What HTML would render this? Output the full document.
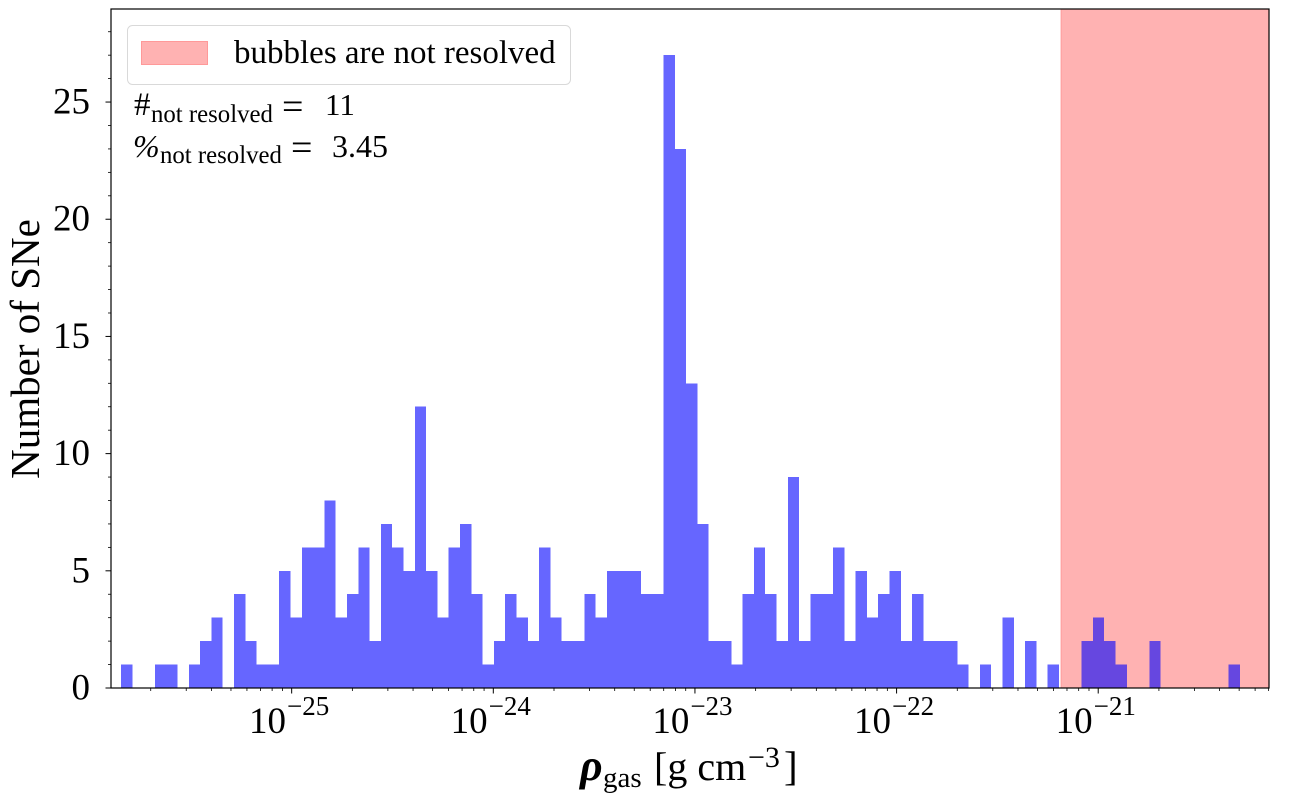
<!DOCTYPE html>
<html>
<head>
<meta charset="utf-8">
<title>Number of SNe vs gas density</title>
<style>
html,body{margin:0;padding:0;background:#fff;}
svg{display:block;}
text{font-family:"Liberation Serif","DejaVu Serif",serif;fill:#000;}
</style>
</head>
<body>
<svg id="chart" xmlns="http://www.w3.org/2000/svg" width="1300" height="800" viewBox="0 0 1300 800">
  <g id="span-layer"></g>
  <g id="bars"></g>
  <g id="axes"></g>

  <g>
    <rect x="127.5" y="25.5" width="443" height="59" rx="5" fill="#fff" fill-opacity="0.8" stroke="#d9d9d9" stroke-width="1"/>
    <rect x="141.5" y="41.5" width="66" height="23" fill="#ffb2b2" stroke="#ff9999" stroke-width="1"/>
    <text x="234" y="63" font-size="33">bubbles are not resolved</text>
  </g>

  <g>
    <text x="134" y="115" font-size="33">#</text>
    <text x="151" y="122" font-size="24.8">not resolved</text>
    <text x="282" y="119" font-size="38">=</text>
    <text x="325" y="115" font-size="31">11</text>
  </g>
  <g>
    <text x="133" y="157" font-size="32" font-style="italic">%</text>
    <text x="160" y="163" font-size="24.8">not resolved</text>
    <text x="291" y="160" font-size="38">=</text>
    <text x="332" y="157" font-size="32">3.45</text>
  </g>

  <text transform="translate(39,349) rotate(-90)" text-anchor="middle" font-size="41">Number of SNe</text>

  <g>
    <text x="580" y="780" font-size="44" font-style="italic" font-weight="bold">ρ</text>
    <text x="603" y="787" font-size="29">gas</text>
    <text x="654" y="780" font-size="40">[g cm</text>
    <text x="748" y="767" font-size="30">−3</text>
    <text x="784" y="780" font-size="41">]</text>
  </g>
</svg>

<script>
// Histogram data: counts per log-spaced density bin
const binCounts = [
  1,0,0,1,1,0,1,2,3,0,
  4,2,1,1,5,3,6,6,8,3,
  4,6,2,7,6,5,12,5,3,6,
  7,4,1,2,4,3,2,6,3,2,
  2,4,3,5,5,5,4,4,27,23,
  13,7,2,2,1,4,6,4,2,9,
  2,4,4,6,2,5,3,4,5,2,
  4,2,2,2,1,0,1,0,3,0,
  2,0,1,0,0,2,3,2,1,0,
  0,2,0,0,0,0,0,0,1
];
const firstBinLog = [-25.8465];
const binLogWidth = [0.05605];
const xLimitsLog = [-25.896, -20.153];
const yLimits = [0, 28.97];
const resolvedLimitLog = [-21.184];
const xMajorExponents = [-25, -24, -23, -22, -21];
const xMajorLabels = ["−25", "−24", "−23", "−22", "−21"];
const yMajorTicks = [0, 5, 10, 15, 20, 25];
const yMinorStep = [1];
const xMinorMultipliers = [2, 3, 4, 5, 6, 7, 8, 9];

const plotLeft = 111, plotRight = 1269, plotTop = 9, plotBottom = 688;
const NS = "http://www.w3.org/2000/svg";

function xScale(logValue) {
  return plotLeft + (logValue - xLimitsLog[0]) / (xLimitsLog[1] - xLimitsLog[0]) * (plotRight - plotLeft);
}
function yScale(value) {
  return plotBottom - (value - yLimits[0]) / (yLimits[1] - yLimits[0]) * (plotBottom - plotTop);
}
function make(tag, attrs, parent) {
  const el = document.createElementNS(NS, tag);
  for (const k in attrs) el.setAttribute(k, attrs[k]);
  parent.appendChild(el);
  return el;
}

const spanLayer = document.getElementById("span-layer");
const barsLayer = document.getElementById("bars");
const axesLayer = document.getElementById("axes");

// Shaded region
const spanX = xScale(resolvedLimitLog[0]);
const spanRect = make("rect", {x: spanX, y: plotTop, width: plotRight - spanX, height: plotBottom - plotTop, fill: "#ffb2b2", stroke: "#ff9c9c", "stroke-width": 1}, spanLayer);



// Bars
binCounts.forEach(function (count, i) {
  if (count <= 0) return;
  const x0 = xScale(firstBinLog[0] + i * binLogWidth[0]);
  const x1 = xScale(firstBinLog[0] + (i + 1) * binLogWidth[0]);
  const bar = make("rect", {x: x0, y: yScale(count), width: x1 - x0, height: yScale(0) - yScale(count), fill: "#0000ff", "fill-opacity": 0.6, "shape-rendering": "crispEdges"}, barsLayer);
  
  
});

// X ticks
for (let e = Math.floor(xLimitsLog[0]); e <= Math.ceil(xLimitsLog[1]); e++) {
  xMinorMultipliers.forEach(function (m) {
    const lv = e + Math.log10(m);
    if (lv < xLimitsLog[0] || lv > xLimitsLog[1]) return;
    const px = xScale(lv);
    const tick = make("line", {x1: px, x2: px, y1: plotBottom, y2: plotBottom + 3, stroke: "#000", "stroke-width": 0.8}, axesLayer);
    
    
  });
}
xMajorExponents.forEach(function (e, i) {
  const px = xScale(e);
  const tick = make("line", {x1: px, x2: px, y1: plotBottom, y2: plotBottom + 5.5, stroke: "#000", "stroke-width": 1}, axesLayer);
  
  
  const label = make("text", {x: px - 2.5, y: 733, "text-anchor": "middle", "font-size": 37}, axesLayer);
  
  
  const base = make("tspan", {}, label);
  base.textContent = "10";
  const exp = make("tspan", {dy: -18, "font-size": 27, dx: 1}, label);
  exp.textContent = xMajorLabels[i];
});

// Y ticks
for (let v = yLimits[0]; v <= yLimits[1]; v += yMinorStep[0]) {
  if (yMajorTicks.indexOf(v) >= 0) continue;
  const py = yScale(v);
  const tick = make("line", {x1: plotLeft - 3, x2: plotLeft, y1: py, y2: py, stroke: "#000", "stroke-width": 0.8}, axesLayer);
  
  
}
yMajorTicks.forEach(function (v) {
  const py = yScale(v);
  const tick = make("line", {x1: plotLeft - 5.5, x2: plotLeft, y1: py, y2: py, stroke: "#000", "stroke-width": 1}, axesLayer);
  
  
  const label = make("text", {x: 90, y: py + 11.5, "text-anchor": "end", "font-size": 37}, axesLayer);
  
  
  label.textContent = String(v);
});

// Spines
const frame = make("rect", {x: plotLeft, y: plotTop, width: plotRight - plotLeft, height: plotBottom - plotTop, fill: "none", stroke: "#000", "stroke-width": 1.2}, axesLayer);


</script>
</body>
</html>
